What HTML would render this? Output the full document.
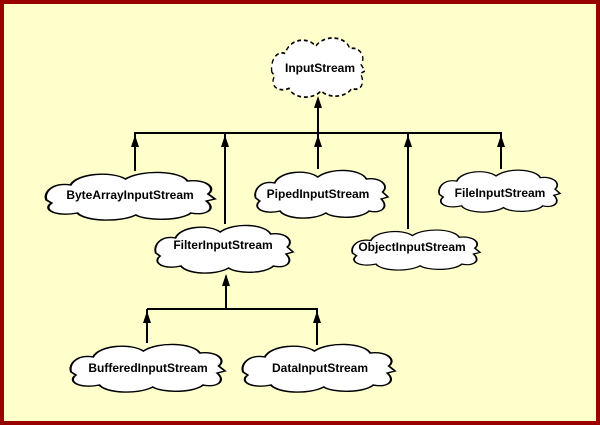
<!DOCTYPE html>
<html><head><meta charset="utf-8"><style>
html,body{margin:0;padding:0;}
body{width:600px;height:425px;overflow:hidden;}
svg{display:block;}
text{font-family:"Liberation Sans",Arial,sans-serif;font-weight:bold;font-size:12px;fill:#000;}
</style></head><body>
<svg width="600" height="425" viewBox="0 0 600 425" xmlns="http://www.w3.org/2000/svg">
<defs>
<path id="cl" d="M2,30 C0,22 6,12 16,15 C20,3 40,1 48,9 C58,-1 80,1 84,11 C95,9 101,18 96,24 L100,29 L95,31 C101,39 95,46 86,43 C80,51 60,51 54,45 C44,53 24,51 20,43 C8,47 -1,40 5,33 Z"/>
</defs>
<rect x="0" y="0" width="600" height="425" fill="#990000"/>
<rect x="4" y="4" width="592" height="417" fill="#FFFFCC"/>

<!-- connectors -->
<g stroke="#000" stroke-width="2" fill="none">
<line x1="134" y1="133" x2="502" y2="133"/>
<line x1="318" y1="133" x2="318" y2="100"/>
<line x1="135" y1="133" x2="135" y2="171"/>
<line x1="225" y1="133" x2="225" y2="224"/>
<line x1="318" y1="133" x2="318" y2="169"/>
<line x1="408" y1="133" x2="408" y2="229"/>
<line x1="501" y1="133" x2="501" y2="169"/>
<line x1="147" y1="309" x2="318" y2="309"/>
<line x1="226" y1="309" x2="226" y2="276"/>
<line x1="147" y1="309" x2="147" y2="343"/>
<line x1="317" y1="309" x2="317" y2="345"/>
</g>
<g fill="#000">
<polygon points="318,96 314,108 322,108"/>
<polygon points="135,135 131,147 139,147"/>
<polygon points="225,135 221,147 229,147"/>
<polygon points="318,135 314,147 322,147"/>
<polygon points="408,135 404,147 412,147"/>
<polygon points="501,135 497,147 505,147"/>
<polygon points="226,274 222,286 230,286"/>
<polygon points="147,311 143,323 151,323"/>
<polygon points="317,311 313,323 321,323"/>
</g>

<!-- clouds -->
<g fill="#fff" stroke="#000" stroke-width="1.4">
<use href="#cl" transform="translate(270,35) scale(0.95,1.24)" stroke-dasharray="4,3" style="vector-effect:non-scaling-stroke"/>
<use href="#cl" transform="translate(43,170) scale(1.72,1.0)"/>
<use href="#cl" transform="translate(253,168) scale(1.35,1.0)"/>
<use href="#cl" transform="translate(437,168) scale(1.23,0.88)"/>
<use href="#cl" transform="translate(350,228) scale(1.30,0.84)"/>
<use href="#cl" transform="translate(153,223) scale(1.40,1.0)"/>
<use href="#cl" transform="translate(68,342) scale(1.57,1.0)"/>
<use href="#cl" transform="translate(240,342) scale(1.55,1.0)"/>
</g>

<g text-anchor="middle">
<text x="320" y="72">InputStream</text>
<text x="130" y="199">ByteArrayInputStream</text>
<text x="318" y="198">PipedInputStream</text>
<text x="500" y="197">FileInputStream</text>
<text x="412" y="251">ObjectInputStream</text>
<text x="223" y="249">FilterInputStream</text>
<text x="148" y="372">BufferedInputStream</text>
<text x="320" y="372">DataInputStream</text>
</g>
</svg>
</body></html>
